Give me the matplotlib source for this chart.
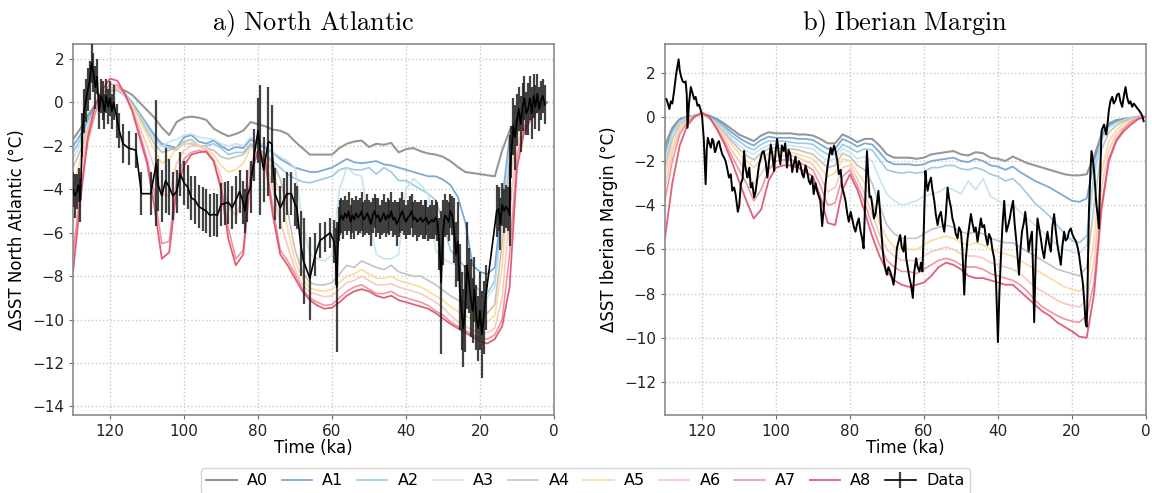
import numpy as np
import matplotlib
matplotlib.use('Agg')
import matplotlib.pyplot as plt

plt.rcParams['mathtext.fontset'] = 'cm'
plt.rcParams['font.family'] = ['DejaVu Sans']

# model time grids (ka)
t_na = [130, 128, 126, 124, 122, 120, 118, 116, 114, 112, 110, 108, 106, 104, 102, 100, 98, 96, 94, 92,
        90, 88, 86, 84, 82, 80, 78, 76, 74, 72, 70, 68, 66, 64, 62, 60, 58, 56, 54, 52,
        50, 48, 46, 44, 42, 40, 38, 36, 34, 32, 30, 28, 26, 24, 22, 20, 18, 16, 14, 12,
        10, 8, 6, 4, 2]
t_ib = [130, 128, 126, 124, 122, 120, 118, 116, 114, 112, 110, 108, 106, 104, 102, 100, 98, 96, 94, 92,
        90, 88, 86, 84, 82, 80, 78, 76, 74, 72, 70, 68, 66, 64, 62, 60, 58, 56, 54, 52,
        50, 48, 46, 44, 42, 40, 38, 36, 34, 32, 30, 28, 26, 24, 22, 20, 18, 16, 14, 12,
        10, 8, 6, 4, 2, 0]

# a) North Atlantic model runs
na_A0 = [-1.7, -1.2, -0.6, -0.1, 0.3, 0.5, 0.6, 0.55, 0.35, 0.0, -0.35, -0.7, -1.15, -1.5, -0.9, -0.7, -0.65, -0.7, -0.8, -1.2,
         -1.4, -1.55, -1.45, -1.3, -0.9, -1.0, -1.1, -1.25, -1.3, -1.45, -1.8, -2.1, -2.4, -2.4, -2.4, -2.4, -2.1, -1.9, -1.8, -1.75,
         -2.05, -1.9, -1.95, -1.86, -2.3, -2.15, -2.1, -2.25, -2.35, -2.4, -2.5, -2.7, -2.97, -3.2, -3.25, -3.3, -3.35, -3.4, -2.2, -1.3,
         -0.75, -0.45, -0.3, -0.15, 0.0]
na_A1 = [-2.0, -1.5, -0.8, -0.2, 0.3, 0.55, 0.6, 0.4, 0.0, -0.5, -1.0, -1.5, -1.9, -2.0, -2.1, -1.6, -1.5, -1.8, -1.9, -1.75,
         -2.0, -2.2, -2.05, -2.1, -1.7, -1.9, -2.1, -2.3, -2.6, -2.8, -3.0, -3.1, -3.2, -3.2, -3.1, -3.0, -2.8, -2.6, -2.75, -2.8,
         -2.75, -2.7, -2.85, -2.9, -3.0, -3.1, -3.2, -3.3, -3.4, -3.4, -3.55, -3.8, -4.35, -5.5, -7.5, -7.8, -7.9, -7.6, -4.5, -1.6,
         -0.8, -0.5, -0.3, -0.15, 0.0]
na_A2 = [-2.3, -1.7, -0.9, -0.3, 0.2, 0.5, 0.55, 0.3, -0.1, -0.6, -1.1, -1.6, -2.0, -2.1, -2.2, -1.8, -1.7, -2.0, -2.0, -1.9,
         -2.1, -2.4, -2.3, -2.3, -1.9, -2.1, -2.4, -2.7, -3.0, -3.3, -3.5, -3.65, -3.7, -3.6, -3.5, -3.4, -3.1, -3.0, -3.1, -3.1,
         -3.0, -3.3, -3.0, -3.2, -3.6, -3.6, -3.8, -4.0, -4.2, -4.5, -5.5, -6.8, -7.2, -7.6, -8.3, -8.7, -8.8, -8.2, -5.0, -2.0,
         -0.9, -0.55, -0.3, -0.15, 0.0]
na_A3 = [-2.6, -1.9, -1.0, -0.35, 0.2, 0.5, 0.55, 0.3, -0.1, -0.6, -1.15, -1.7, -2.05, -1.8, -1.7, -1.5, -1.45, -1.6, -1.65, -1.7,
         -1.9, -2.0, -1.9, -2.0, -1.6, -1.8, -2.0, -2.3, -2.5, -2.7, -3.0, -5.5, -7.0, -7.2, -7.3, -7.0, -4.0, -3.0, -3.3, -3.4,
         -5.5, -7.0, -7.2, -7.2, -7.0, -4.0, -3.5, -3.8, -4.2, -6.8, -7.2, -7.4, -7.5, -8.0, -8.5, -8.9, -9.0, -8.5, -5.5, -2.3,
         -1.0, -0.6, -0.35, -0.15, 0.0]
na_A4 = [-3.0, -2.2, -1.2, -0.4, 0.2, 0.55, 0.6, 0.35, -0.1, -0.7, -1.3, -1.9, -2.3, -2.2, -2.1, -1.9, -1.9, -2.0, -2.1, -2.2,
         -2.5, -2.6, -2.5, -2.4, -2.0, -2.1, -2.4, -2.8, -3.5, -5.0, -6.8, -7.8, -8.3, -8.4, -8.4, -8.3, -7.9, -7.5, -7.6, -7.3,
         -7.45, -7.6, -7.7, -7.5, -7.8, -7.9, -8.0, -8.0, -8.2, -8.4, -8.65, -8.9, -9.1, -9.3, -9.5, -9.6, -9.7, -9.3, -6.5, -2.8,
         -1.2, -0.7, -0.4, -0.2, 0.0]
na_A5 = [-4.0, -2.6, -1.3, -0.4, 0.25, 0.6, 0.65, 0.4, -0.15, -0.8, -1.5, -2.2, -2.8, -2.6, -2.1, -1.9, -1.85, -1.95, -2.1, -2.4,
         -2.9, -3.2, -3.1, -2.8, -2.1, -2.1, -2.5, -3.2, -4.2, -5.8, -7.3, -8.1, -8.55, -8.65, -8.7, -8.6, -8.3, -8.0, -7.9, -7.7,
         -7.9, -8.1, -8.1, -8.0, -8.2, -8.3, -8.4, -8.5, -8.7, -8.9, -9.1, -9.4, -9.6, -9.8, -10.0, -10.1, -10.1, -9.8, -7.5, -3.5,
         -1.5, -0.8, -0.45, -0.2, 0.0]
na_A6 = [-5.5, -3.2, -1.5, -0.4, 0.35, 0.7, 0.7, 0.4, -0.3, -1.1, -2.0, -3.0, -4.2, -4.3, -2.8, -2.2, -2.0, -2.0, -2.2, -2.6,
         -3.4, -4.8, -5.2, -4.4, -2.8, -2.2, -2.6, -4.0, -5.5, -6.6, -7.7, -8.4, -8.75, -8.85, -8.95, -8.9, -8.6, -8.3, -8.2, -8.0,
         -8.2, -8.4, -8.4, -8.35, -8.5, -8.6, -8.7, -8.8, -9.0, -9.2, -9.45, -9.8, -10.1, -10.3, -10.5, -10.6, -10.6, -10.4, -9.0, -5.0,
         -2.0, -1.0, -0.55, -0.25, 0.0]
na_A7 = [-7.0, -4.0, -1.8, -0.5, 0.4, 0.85, 0.8, 0.4, -0.35, -1.4, -2.6, -4.2, -6.5, -6.4, -3.6, -2.6, -2.3, -2.2, -2.3, -2.7,
         -3.8, -5.8, -7.2, -6.8, -3.2, -2.3, -2.7, -4.8, -6.8, -7.3, -7.9, -8.6, -9.0, -9.2, -9.35, -9.3, -9.0, -8.7, -8.5, -8.4,
         -8.6, -8.8, -8.8, -8.7, -8.9, -9.0, -9.1, -9.2, -9.35, -9.6, -9.8, -10.1, -10.3, -10.5, -10.7, -10.85, -10.9, -10.7, -10.0, -7.0,
         -2.5, -1.1, -0.6, -0.3, 0.0]
na_A8 = [-7.8, -4.5, -1.6, -0.1, 0.6, 1.1, 1.0, 0.4, -0.4, -1.6, -2.8, -4.8, -7.2, -6.9, -4.0, -2.9, -2.4, -2.3, -2.25, -2.7,
         -4.0, -6.3, -7.5, -7.0, -3.4, -2.2, -2.8, -5.2, -7.0, -7.5, -8.1, -8.7, -9.1, -9.35, -9.5, -9.45, -9.2, -8.9, -8.7, -8.6,
         -8.7, -8.9, -9.0, -8.9, -9.1, -9.2, -9.3, -9.4, -9.5, -9.7, -9.95, -10.2, -10.4, -10.6, -10.8, -11.0, -11.1, -10.9, -10.3, -8.5,
         -3.0, -1.3, -0.7, -0.3, 0.0]

# b) Iberian Margin model runs
ib_A0 = [-1.3, -0.5, -0.1, 0.0, 0.05, 0.1, 0.05, -0.1, -0.3, -0.55, -0.8, -0.95, -1.1, -0.85, -0.7, -0.75, -0.75, -0.75, -0.8, -0.8,
         -0.85, -1.0, -1.2, -1.2, -0.8, -0.95, -1.15, -1.0, -1.0, -1.3, -1.7, -1.85, -1.85, -1.85, -1.9, -1.85, -1.7, -1.65, -1.6, -1.55,
         -1.7, -1.75, -1.6, -1.65, -1.85, -1.9, -2.0, -1.8, -1.95, -2.1, -2.2, -2.3, -2.4, -2.5, -2.6, -2.65, -2.65, -2.6, -1.8, -0.8,
         -0.3, -0.15, -0.1, -0.05, 0.0, 0.0]
ib_A1 = [-1.6, -0.6, -0.15, 0.0, 0.05, 0.1, 0.05, -0.15, -0.4, -0.7, -0.95, -1.15, -1.3, -1.05, -0.9, -0.95, -0.95, -0.95, -1.0, -1.0,
         -1.05, -1.25, -1.45, -1.45, -1.0, -1.15, -1.35, -1.2, -1.25, -1.6, -2.0, -2.15, -2.15, -2.15, -2.2, -2.15, -2.0, -1.95, -1.9, -1.85,
         -2.0, -2.05, -1.9, -2.0, -2.2, -2.25, -2.4, -2.25, -2.5, -2.7, -2.9, -3.05, -3.2, -3.4, -3.6, -3.8, -3.85, -3.7, -2.0, -0.9,
         -0.4, -0.2, -0.1, -0.05, 0.0, 0.0]
ib_A2 = [-1.8, -0.7, -0.2, 0.0, 0.05, 0.1, 0.0, -0.25, -0.5, -0.85, -1.1, -1.35, -1.5, -1.25, -1.1, -1.1, -1.1, -1.15, -1.2, -1.2,
         -1.25, -1.5, -1.7, -1.7, -1.25, -1.4, -1.6, -1.45, -1.5, -1.95, -2.4, -2.5, -2.55, -2.5, -2.55, -2.5, -2.3, -2.3, -2.2, -2.2,
         -2.35, -2.4, -2.3, -2.4, -2.6, -2.7, -2.9, -2.8, -3.1, -3.5, -3.9, -4.2, -4.5, -4.9, -5.3, -5.6, -5.7, -5.4, -2.5, -1.0,
         -0.45, -0.25, -0.15, -0.05, 0.0, 0.0]
ib_A3 = [-2.0, -0.8, -0.25, -0.05, 0.05, 0.1, -0.05, -0.3, -0.6, -1.0, -1.3, -1.55, -1.7, -1.45, -1.3, -1.25, -1.3, -1.3, -1.35, -1.4,
         -1.45, -1.75, -2.0, -1.9, -1.45, -1.6, -1.9, -1.8, -2.0, -2.8, -3.5, -3.8, -4.0, -3.9, -3.8, -3.6, -3.5, -3.4, -3.2, -3.3,
         -3.5, -2.9, -3.3, -2.8, -3.6, -3.8, -4.0, -4.0, -4.3, -4.6, -4.9, -5.2, -5.5, -5.8, -6.0, -6.1, -6.2, -5.8, -2.8, -1.1,
         -0.5, -0.3, -0.15, -0.05, 0.0, 0.0]
ib_A4 = [-2.3, -1.0, -0.35, -0.1, 0.05, 0.1, -0.05, -0.35, -0.7, -1.1, -1.45, -1.75, -1.95, -1.65, -1.45, -1.4, -1.45, -1.45, -1.5, -1.6,
         -1.7, -2.0, -2.3, -2.2, -1.65, -1.8, -2.2, -2.4, -3.0, -4.0, -4.9, -5.3, -5.5, -5.5, -5.5, -5.3, -5.1, -5.0, -4.9, -5.0,
         -5.2, -5.3, -5.2, -5.3, -5.5, -5.6, -5.7, -5.7, -5.9, -6.1, -6.3, -6.5, -6.7, -6.9, -7.0, -7.1, -7.2, -6.8, -4.0, -1.5,
         -0.7, -0.4, -0.2, -0.1, 0.0, 0.0]
ib_A5 = [-2.7, -1.3, -0.5, -0.15, 0.05, 0.12, -0.05, -0.4, -0.8, -1.25, -1.65, -2.0, -2.3, -1.95, -1.65, -1.55, -1.6, -1.6, -1.7, -1.8,
         -1.9, -2.3, -2.7, -2.55, -1.9, -2.0, -2.5, -3.0, -3.8, -4.8, -5.5, -5.9, -6.0, -6.0, -6.0, -5.8, -5.6, -5.5, -5.4, -5.5,
         -5.7, -5.8, -5.7, -5.8, -6.0, -6.1, -6.2, -6.3, -6.5, -6.7, -6.9, -7.1, -7.3, -7.5, -7.7, -7.8, -7.9, -7.6, -5.5, -2.5,
         -1.1, -0.6, -0.3, -0.15, -0.05, 0.0]
ib_A6 = [-3.2, -1.6, -0.65, -0.2, 0.05, 0.15, -0.05, -0.45, -0.95, -1.5, -2.0, -2.5, -3.0, -2.6, -2.0, -1.75, -1.75, -1.75, -1.85, -2.0,
         -2.15, -2.7, -3.4, -3.2, -2.3, -2.2, -2.8, -3.5, -4.4, -5.3, -6.0, -6.3, -6.5, -6.5, -6.5, -6.3, -6.1, -6.0, -5.9, -6.0,
         -6.2, -6.3, -6.3, -6.4, -6.6, -6.7, -6.8, -6.9, -7.1, -7.4, -7.7, -7.9, -8.1, -8.3, -8.45, -8.55, -8.6, -8.3, -6.5, -3.2,
         -1.5, -0.8, -0.45, -0.2, -0.05, 0.0]
ib_A7 = [-3.8, -2.0, -0.8, -0.25, 0.05, 0.15, -0.05, -0.5, -1.1, -1.75, -2.4, -3.0, -3.8, -3.3, -2.4, -2.0, -1.95, -1.95, -2.05, -2.2,
         -2.4, -3.1, -4.0, -3.9, -2.7, -2.4, -3.1, -3.9, -4.9, -5.8, -6.5, -6.8, -7.0, -7.0, -7.1, -6.9, -6.7, -6.5, -6.4, -6.5,
         -6.7, -6.8, -6.8, -6.9, -7.1, -7.2, -7.3, -7.4, -7.6, -7.9, -8.3, -8.6, -8.8, -9.0, -9.15, -9.25, -9.3, -9.0, -7.5, -4.0,
         -1.9, -1.0, -0.55, -0.25, -0.05, 0.0]
ib_A8 = [-5.5, -3.0, -1.3, -0.4, 0.0, 0.2, 0.0, -0.55, -1.2, -2.0, -2.9, -3.8, -4.6, -4.2, -2.9, -2.3, -2.2, -2.2, -2.3, -2.5,
         -2.7, -3.6, -4.8, -4.9, -3.3, -2.6, -3.3, -4.3, -5.4, -6.3, -7.0, -7.4, -7.6, -7.7, -7.6, -7.5, -7.2, -6.8, -6.6, -6.7,
         -6.9, -7.2, -7.3, -7.3, -7.4, -7.5, -7.6, -7.6, -7.9, -8.2, -8.5, -8.8, -9.0, -9.3, -9.5, -9.7, -9.95, -10.0, -8.0, -4.2,
         -2.0, -1.1, -0.65, -0.35, -0.1, 0.0]

# North Atlantic proxy data (time, value, error)
na_data_t = [130.0, 129.5, 129.0, 128.5, 128.0, 127.5, 127.0, 126.5, 126.0, 125.5, 125.0, 124.5, 124.0, 123.5, 123.0,
             122.5, 122.0, 121.5, 121.0, 120.5, 120.0, 119.5, 119.0, 118.0, 117.5, 116.5, 115.0, 113.0, 111.5, 109.0,
             107.5, 107.0, 106.0, 105.0, 104.0, 103.0, 102.0, 101.0, 100.0, 99.0, 98.0, 97.0, 96.0, 95.0, 94.0,
             93.0, 92.0, 91.0, 90.0, 89.0, 88.0, 87.0, 86.0, 85.0, 84.0, 83.5, 83.0, 82.0, 81.0, 80.0,
             79.4, 78.5, 77.2, 76.3, 75.4, 74.0, 73.0, 72.2, 71.0, 70.0, 69.5, 68.5, 67.7, 66.0, 64.5,
             63.2, 62.0, 60.5, 59.5, 59.0, 58.7, 58.2, 57.8, 57.5, 57.0, 56.5, 56.0, 55.5, 55.0, 54.5,
             54.0, 53.5, 53.0, 52.5, 52.0, 51.5, 51.0, 50.5, 50.0, 49.5, 49.0, 48.5, 48.0, 47.5, 47.0,
             46.5, 46.0, 45.5, 45.0, 44.5, 44.0, 43.5, 43.0, 42.5, 42.0, 41.5, 41.0, 40.5, 40.0, 39.5,
             39.0, 38.5, 38.0, 37.5, 37.0, 36.5, 36.0, 35.5, 35.0, 34.5, 34.0, 33.5, 33.0, 32.5, 32.0,
             31.5, 31.0, 30.5, 30.0, 29.5, 29.0, 28.5, 28.0, 27.5, 27.0, 26.5, 26.0, 25.5, 25.0, 24.5,
             24.0, 23.5, 23.0, 22.5, 22.0, 21.5, 21.0, 20.5, 20.0, 19.5, 19.0, 18.5, 15.5, 15.0, 14.5,
             14.0, 13.5, 13.0, 12.5, 12.0, 11.8, 11.5, 11.0, 10.5, 10.0, 9.5, 9.0, 8.5, 8.0, 7.5,
             7.0, 6.5, 6.0, 5.5, 5.0, 4.5, 4.0, 3.5, 3.0, 2.5]
na_data_v = [-4.0, -4.3, -4.1, -3.8, -4.5, -1.5, -0.4, 0.1, 0.6, 1.0, 1.8, 1.4, 0.7, 1.2, -0.4,
             0.3, 0.1, -0.4, 0.3, -0.2, 0.2, -0.4, 0.0, -0.85, -1.3, -1.9, -2.1, -2.2, -4.2, -4.2,
             -2.8, -3.8, -4.3, -3.6, -3.9, -4.3, -4.1, -3.3, -3.7, -3.9, -4.4, -4.5, -4.8, -4.9, -5.0,
             -5.2, -5.15, -5.2, -4.7, -4.65, -4.6, -4.85, -4.5, -4.1, -4.6, -5.0, -4.3, -3.9, -2.4, -1.3,
             -2.2, -3.1, -1.8, -1.9, -4.2, -4.85, -4.5, -4.2, -4.2, -4.7, -4.85, -6.5, -7.3, -8.1, -7.0,
             -6.35, -6.2, -6.0, -6.4, -7.1, -8.5, -5.6, -5.3, -5.2, -5.4, -5.1, -5.3, -5.0, -5.5, -5.2,
             -5.4, -5.1, -5.3, -5.2, -5.0, -5.4, -5.3, -5.1, -5.3, -5.6, -5.2, -5.0, -5.3, -5.2, -5.5,
             -5.3, -5.1, -5.4, -5.2, -5.3, -5.0, -5.4, -5.3, -5.6, -5.4, -5.2, -5.0, -5.3, -5.5, -5.3,
             -5.2, -5.0, -5.4, -5.3, -5.5, -5.4, -5.3, -5.5, -5.4, -5.3, -5.6, -5.5, -5.4, -5.5, -5.3,
             -5.5, -6.5, -8.3, -6.0, -5.2, -5.3, -5.5, -5.0, -5.2, -5.9, -7.0, -6.4, -8.5, -9.6, -10.4,
             -9.5, -7.5, -8.2, -9.0, -9.6, -8.6, -9.9, -10.4, -9.6, -10.7, -9.9, -9.0, -5.0, -4.9, -5.6,
             -4.7, -5.0, -4.8, -4.9, -5.2, -3.0, -2.3, -1.1, -1.6, -0.8, -0.3, -1.0, -0.2, 0.2, -0.5,
             -0.3, 0.2, -0.5, 0.3, -0.2, 0.4, -0.3, 0.1, 0.3, -0.1]
na_data_e = [0.8, 1.0, 0.8, 0.8, 1.0, 1.0, 1.0, 1.0, 1.0, 0.9, 0.9, 0.9, 1.0, 0.8, 0.8,
             0.8, 0.9, 0.8, 0.8, 0.8, 0.8, 0.8, 0.8, 0.8, 0.8, 0.9, 0.8, 0.8, 1.0, 1.0,
             2.9, 1.2, 1.2, 1.5, 1.3, 1.1, 1.0, 1.0, 1.0, 1.0, 1.0, 1.1, 1.0, 1.0, 1.0,
             1.0, 1.0, 1.0, 1.0, 1.0, 1.0, 1.0, 1.1, 1.0, 1.0, 1.0, 1.2, 1.2, 1.2, 1.5,
             3.0, 1.5, 2.5, 1.8, 1.2, 1.0, 1.0, 1.0, 1.0, 1.0, 1.0, 1.5, 2.0, 1.9, 1.0,
             0.8, 0.7, 0.7, 1.0, 1.3, 3.0, 0.8, 0.8, 0.8, 0.9, 0.8, 0.8, 0.9, 0.8, 0.8,
             0.9, 0.8, 0.8, 0.8, 0.9, 0.8, 0.8, 0.9, 0.8, 1.0, 0.8, 0.8, 0.9, 0.8, 0.8,
             0.8, 0.9, 0.8, 0.8, 0.8, 0.9, 0.8, 0.8, 1.0, 0.8, 0.8, 0.9, 0.8, 0.8, 0.8,
             0.9, 0.8, 0.8, 0.8, 0.9, 0.8, 0.8, 0.8, 0.9, 0.8, 0.8, 0.8, 0.9, 0.8, 0.8,
             0.9, 1.2, 3.3, 1.5, 1.0, 0.8, 0.9, 0.8, 0.9, 1.5, 1.5, 1.8, 2.0, 1.8, 1.8,
             2.0, 2.0, 1.5, 1.8, 1.5, 1.5, 1.5, 1.5, 1.8, 2.0, 1.7, 1.5, 1.2, 1.0, 1.2,
             1.0, 1.0, 1.0, 1.0, 1.4, 1.5, 1.2, 1.3, 1.5, 1.2, 1.0, 1.3, 1.1, 1.0, 1.0,
             1.2, 1.0, 1.2, 1.0, 1.0, 0.9, 1.0, 0.9, 0.8, 0.9]

# Iberian Margin proxy data
ib_data_t = [129.6, 129.2, 128.8, 128.4, 128.0, 127.5, 127.0, 126.6, 126.3, 126.0, 125.6, 125.2, 124.8, 124.4, 124.1,
             123.9, 123.5, 123.0, 122.6, 122.1, 121.7, 121.2, 120.8, 120.5, 120.0, 119.5, 119.0, 118.7, 118.4, 118.0,
             117.6, 117.2, 116.9, 116.5, 116.3, 115.8, 115.4, 115.0, 114.5, 114.0, 113.6, 113.1, 112.7, 112.2, 111.8,
             111.3, 110.9, 110.6, 110.3, 109.9, 109.5, 109.0, 108.6, 108.3, 107.9, 107.7, 107.2, 106.8, 106.4, 105.9,
             105.5, 105.0, 104.6, 104.1, 103.7, 103.3, 102.8, 102.3, 101.8, 101.4, 100.9, 100.5, 100.1, 99.7, 99.2,
             98.8, 98.4, 97.9, 97.5, 97.0, 96.6, 96.1, 95.6, 95.2, 94.7, 94.3, 93.8, 93.4, 92.9, 92.5,
             92.0, 91.6, 91.1, 90.7, 90.2, 89.8, 89.3, 88.9, 88.4, 88.0, 87.5, 87.0, 86.6, 86.1, 85.7,
             85.2, 84.8, 84.3, 83.9, 83.4, 83.0, 82.5, 82.1, 81.6, 81.2, 80.7, 80.3, 79.8, 79.4, 78.9,
             78.5, 78.0, 77.6, 77.1, 76.7, 76.3, 75.9, 75.4, 75.0, 74.7, 74.3, 74.0, 73.5, 73.1, 72.7,
             72.3, 71.9, 71.6, 71.2, 70.9, 70.4, 70.0, 69.6, 69.1, 68.6, 68.2, 67.8, 67.3, 66.8, 66.4,
             66.0, 65.5, 65.1, 64.8, 64.3, 63.9, 63.5, 63.0, 62.6, 62.1, 61.7, 61.2, 60.8, 60.4, 60.0,
             59.6, 59.3, 59.0, 58.6, 58.1, 57.7, 57.2, 56.8, 56.3, 55.9, 55.4, 55.0, 54.5, 54.1, 53.6,
             53.2, 52.7, 52.3, 51.8, 51.4, 50.9, 50.5, 50.0, 49.6, 49.1, 48.7, 48.2, 47.8, 47.3, 46.9,
             46.4, 46.0, 45.5, 45.1, 44.6, 44.2, 43.7, 43.3, 42.8, 42.4, 41.9, 41.5, 41.0, 40.5, 40.0,
             39.6, 39.2, 38.8, 38.3, 38.0, 37.7, 37.2, 36.8, 36.4, 35.9, 35.5, 35.0, 34.7, 34.3, 33.9,
             33.5, 33.0, 32.6, 32.2, 31.7, 31.3, 30.8, 30.5, 30.2, 29.8, 29.3, 28.9, 28.4, 28.0, 27.5,
             27.1, 26.6, 26.2, 25.7, 25.3, 24.8, 24.4, 23.9, 23.5, 23.0, 22.6, 22.1, 21.7, 21.2, 20.8,
             20.3, 19.9, 19.4, 19.0, 18.6, 18.1, 17.6, 17.3, 17.0, 16.6, 16.3, 16.0, 15.8, 15.6, 15.4,
             15.0, 14.7, 14.3, 14.0, 13.7, 13.4, 13.0, 12.7, 12.4, 12.0, 11.7, 11.3, 11.0, 10.7, 10.3,
             10.0, 9.6, 9.1, 8.7, 8.2, 7.8, 7.3, 6.9, 6.4, 6.0, 5.5, 5.1, 4.6, 4.2, 3.7,
             3.3, 2.8, 2.4, 1.9, 1.5, 1.0, 0.6]
ib_data_v = [0.8, 0.6, 0.35, 0.7, 0.6, 1.2, 1.9, 2.3, 2.6, 2.1, 1.8, 1.6, 1.55, 1.6, 1.0,
             -0.5, 0.6, 1.35, 1.1, 0.8, 0.9, 0.5, 0.55, 0.4, 0.1, -1.0, -3.05, -1.5, -0.95, -1.2,
             -1.4, -1.0, -1.1, -1.6, -1.55, -1.2, -1.1, -1.4, -1.7, -1.85, -2.0, -2.4, -2.75, -2.6, -3.35,
             -3.2, -3.5, -3.9, -4.3, -4.0, -3.05, -2.8, -1.55, -2.2, -2.6, -2.75, -2.3, -3.2, -3.0, -3.65,
             -3.4, -2.75, -2.2, -1.85, -1.6, -1.55, -2.0, -2.75, -1.9, -1.25, -1.8, -2.45, -1.6, -1.0, -1.7,
             -2.15, -1.3, -1.55, -1.2, -2.3, -1.5, -1.7, -2.5, -2.15, -1.8, -2.5, -2.0, -2.15, -2.6, -2.75,
             -2.2, -2.45, -2.9, -3.05, -2.7, -3.5, -3.0, -3.35, -3.6, -3.8, -4.95, -4.0, -3.05, -2.3, -1.85,
             -1.4, -1.7, -1.3, -1.55, -2.0, -2.6, -2.4, -3.2, -3.5, -3.8, -4.4, -4.75, -4.3, -4.6, -5.0,
             -5.2, -4.8, -4.6, -5.2, -5.5, -5.95, -4.0, -1.55, -2.8, -3.65, -3.6, -3.95, -4.6, -4.4, -3.9,
             -3.35, -4.2, -5.0, -5.9, -6.4, -6.9, -7.15, -6.8, -7.0, -7.3, -7.6, -7.0, -5.95, -5.6, -5.35,
             -5.9, -6.1, -5.4, -6.4, -6.9, -7.3, -7.6, -8.2, -7.0, -6.4, -6.8, -7.0, -6.6, -7.0, -4.9,
             -2.45, -3.0, -3.35, -3.0, -2.75, -3.3, -3.8, -4.4, -4.9, -4.5, -4.3, -4.8, -5.2, -4.5, -3.2,
             -3.7, -4.1, -4.6, -4.9, -5.3, -5.5, -5.0, -5.2, -6.0, -8.05, -6.5, -5.5, -5.0, -4.4, -4.8,
             -5.2, -5.0, -5.65, -5.2, -4.6, -5.0, -4.9, -5.4, -5.8, -5.3, -5.5, -6.0, -6.4, -7.5, -10.2,
             -8.0, -6.4, -5.0, -3.8, -4.6, -5.2, -4.9, -4.6, -4.2, -3.8, -4.8, -5.65, -6.3, -7.15, -6.0,
             -5.2, -4.8, -4.3, -5.0, -6.1, -5.6, -5.2, -7.0, -9.3, -6.5, -4.6, -5.0, -5.5, -6.0, -6.4,
             -5.8, -5.2, -5.7, -6.1, -5.0, -4.4, -5.1, -5.8, -6.2, -6.7, -5.9, -5.2, -5.6, -5.5, -5.2,
             -5.05, -5.3, -5.5, -5.6, -5.8, -6.2, -6.85, -7.2, -7.6, -8.5, -9.3, -9.5, -8.05, -6.0, -4.3,
             -2.5, -1.55, -2.0, -2.45, -3.2, -3.95, -4.5, -5.05, -3.0, -0.65, -0.5, -0.35, -0.6, -0.8, -0.2,
             0.3, 0.7, 0.9, 0.6, 0.75, 1.0, 1.05, 0.7, 0.45, 0.9, 1.35, 0.9, 0.6, 0.7, 0.45,
             0.6, 0.5, 0.4, 0.3, 0.2, 0.05, -0.2]

labels = ['A0', 'A1', 'A2', 'A3', 'A4', 'A5', 'A6', 'A7', 'A8']
colors = ['#8c8c8c', '#6fa0cf', '#92c5e0', '#c3e1ee', '#bdbdbd', '#fbd892', '#f8c3b9', '#ee8a94', '#dd4f6c']
widths = [1.5, 1.3, 1.2, 1.2, 1.2, 1.2, 1.2, 1.2, 1.3]

na_runs = [na_A0, na_A1, na_A2, na_A3, na_A4, na_A5, na_A6, na_A7, na_A8]
ib_runs = [ib_A0, ib_A1, ib_A2, ib_A3, ib_A4, ib_A5, ib_A6, ib_A7, ib_A8]

fig = plt.figure(figsize=(11.52, 4.93), dpi=100)
ax1 = fig.add_axes([0.0634, 0.158, 0.4175, 0.753])
ax2 = fig.add_axes([0.5772, 0.158, 0.4175, 0.753])

for i in range(9):
    ax1.plot(t_na, na_runs[i], color=colors[i], lw=widths[i], alpha=0.9, label=labels[i], zorder=2)
    ax2.plot(t_ib, ib_runs[i], color=colors[i], lw=widths[i], alpha=0.9, zorder=2)

eb = ax1.errorbar(na_data_t, na_data_v, yerr=na_data_e, color='k', lw=1.2, ecolor='#222222',
                  elinewidth=1.6, capsize=0, label='Data', zorder=3)
for bar in eb[2]:
    bar.set_alpha(0.85)
ax2.plot(ib_data_t, ib_data_v, color='k', lw=1.4, zorder=3)

titles = [r'$\mathrm{a)\ North\ Atlantic}$', r'$\mathrm{b)\ Iberian\ Margin}$']
ylabels = ['ΔSST North Atlantic (°C)', 'ΔSST Iberian Margin (°C)']
for ax, title, yl in zip([ax1, ax2], titles, ylabels):
    ax.set_xlim(130, 0)
    ax.set_xticks([120, 100, 80, 60, 40, 20, 0])
    ax.set_title(title, fontsize=19, pad=10)
    ax.set_xlabel('Time (ka)', fontsize=12, labelpad=0)
    ax.set_ylabel(yl, fontsize=12)
    ax.grid(True, linestyle=':', color='#c8c8c8', lw=1.0)
    ax.tick_params(labelsize=11, length=3, color='#666666', labelcolor='#222222')
    for s in ax.spines.values():
        s.set_color('#8a8a8a')
        s.set_linewidth(1.2)

ax1.set_ylim(-14.4, 2.7)
ax1.set_yticks(range(-14, 3, 2))
ax2.set_ylim(-13.5, 3.3)
ax2.set_yticks(range(-12, 3, 2))

handles, labs = ax1.get_legend_handles_labels()
fig.legend(handles, labs, loc='center', bbox_to_anchor=(0.508, 0.025), ncol=10, fontsize=11.5,
           handlelength=1.9, handletextpad=0.65, columnspacing=0.85, frameon=True,
           edgecolor='#cccccc', borderpad=0.35)

fig.savefig('out.png', dpi=100)
